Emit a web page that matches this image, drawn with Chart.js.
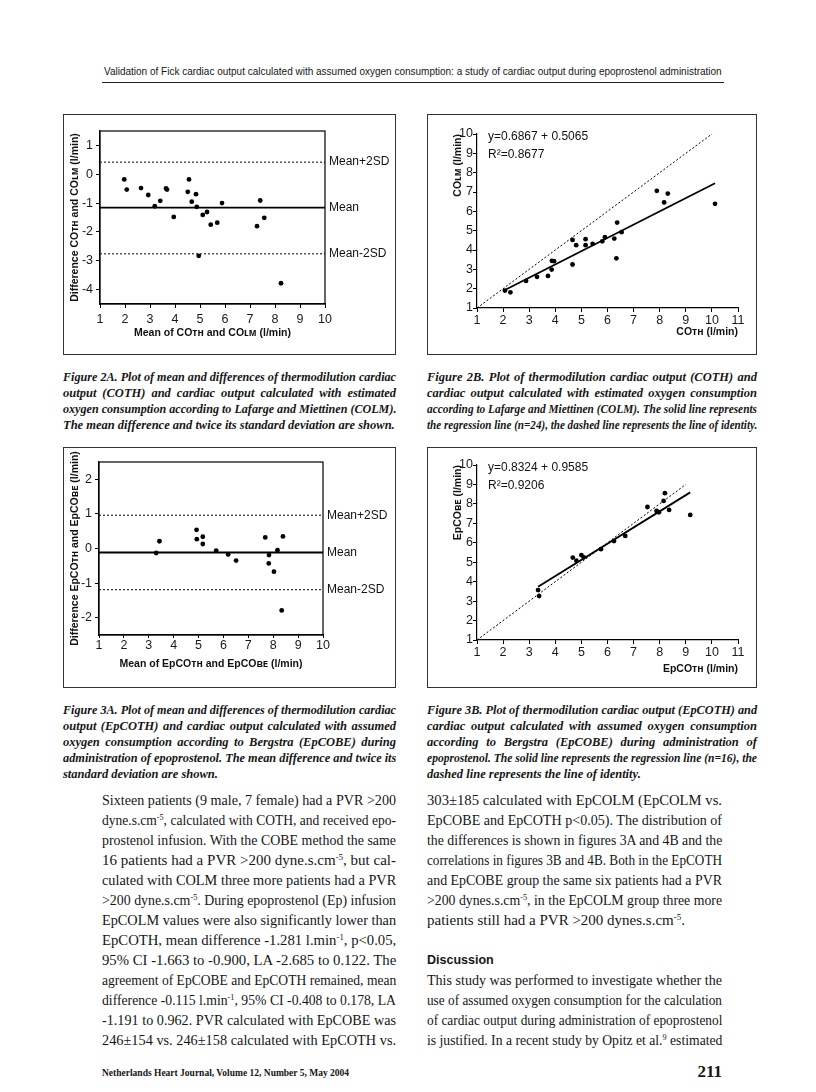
<!DOCTYPE html>
<html>
<head>
<meta charset="utf-8">
<script src="https://cdn.jsdelivr.net/npm/chart.js@4.4.1/dist/chart.umd.min.js"></script>
<style>
  body { margin: 0; width: 816px; height: 1092px; background: #fff; position: relative; overflow: hidden; color: #161616; font-family: "Liberation Serif", "Times New Roman", serif; }
  .box { position: absolute; border: 1px solid #333; box-sizing: border-box; }
  .box canvas { position: absolute; left: -1px; top: -1px; }
  .col { position: absolute; }
  .ln { white-space: nowrap; text-align: justify; text-align-last: justify; }
  .ln.end { text-align-last: left; }
  .cap { font-style: italic; font-weight: bold; font-size: 12.5px; line-height: 16px; }
  .txt { font-size: 15px; line-height: 20px; }
  sup { font-size: 0.6em; line-height: 0; vertical-align: 0.6em; }
  #hdr { position: absolute; left: 104px; top: 65px; width: 618px; font: 11.5px "Liberation Sans", Arial, sans-serif; }
  #rule { position: absolute; left: 102px; top: 82px; width: 622px; border-top: 1.3px solid #222; }
  #disc { font: bold 12.5px "Liberation Sans", Arial, sans-serif; line-height: 20px; }
  #foot { position: absolute; left: 102px; top: 1068px; font-weight: bold; font-size: 9.5px; }
  #page { position: absolute; left: 680px; width: 42px; top: 1062px; text-align: right; font-weight: bold; font-size: 17px; }
</style>
</head>
<body>
<div id="hdr" class="ln end">Validation of Fick cardiac output calculated with assumed oxygen consumption: a study of cardiac output during epoprostenol administration</div>
<div id="rule"></div>

<div class="box" style="left:63px;top:114px;width:333px;height:241px"><canvas id="c2a" width="333" height="241"></canvas></div>
<div class="box" style="left:427px;top:114px;width:330px;height:241px"><canvas id="c2b" width="330" height="241"></canvas></div>
<div class="box" style="left:63px;top:447px;width:333px;height:241px"><canvas id="c3a" width="333" height="241"></canvas></div>
<div class="box" style="left:427px;top:447px;width:330px;height:241px"><canvas id="c3b" width="330" height="241"></canvas></div>

<div class="col cap" style="left:63px;top:369px;width:333px">
  <div class="ln">Figure 2A. Plot of mean and differences of thermodilution cardiac</div>
  <div class="ln">output (COTH) and cardiac output calculated with estimated</div>
  <div class="ln">oxygen consumption according to Lafarge and Miettinen (COLM).</div>
  <div class="ln end">The mean difference and twice its standard deviation are shown.</div>
</div>
<div class="col cap" style="left:427px;top:369px;width:330px">
  <div class="ln">Figure 2B. Plot of thermodilution cardiac output (COTH) and</div>
  <div class="ln">cardiac output calculated with estimated oxygen consumption</div>
  <div class="ln">according to Lafarge and Miettinen (COLM). The solid line represents</div>
  <div class="ln">the regression line (n=24), the dashed line represents the line of identity.</div>
</div>
<div class="col cap" style="left:63px;top:702px;width:333px">
  <div class="ln">Figure 3A. Plot of mean and differences of thermodilution cardiac</div>
  <div class="ln">output (EpCOTH) and cardiac output calculated with assumed</div>
  <div class="ln">oxygen consumption according to Bergstra (EpCOBE) during</div>
  <div class="ln">administration of epoprostenol. The mean difference and twice its</div>
  <div class="ln end">standard deviation are shown.</div>
</div>
<div class="col cap" style="left:427px;top:702px;width:330px">
  <div class="ln">Figure 3B. Plot of thermodilution cardiac output (EpCOTH) and</div>
  <div class="ln">cardiac output calculated with assumed oxygen consumption</div>
  <div class="ln">according to Bergstra (EpCOBE) during administration of</div>
  <div class="ln">epoprostenol. The solid line represents the regression line (n=16), the</div>
  <div class="ln end">dashed line represents the line of identity.</div>
</div>

<div class="col txt" style="left:102px;top:790px;width:294px">
  <div class="ln">Sixteen patients (9 male, 7 female) had a PVR &gt;200</div>
  <div class="ln">dyne.s.cm<sup>-5</sup>, calculated with COTH, and received epo-</div>
  <div class="ln">prostenol infusion. With the COBE method the same</div>
  <div class="ln">16 patients had a PVR &gt;200 dyne.s.cm<sup>-5</sup>, but cal-</div>
  <div class="ln">culated with COLM three more patients had a PVR</div>
  <div class="ln">&gt;200 dyne.s.cm<sup>-5</sup>. During epoprostenol (Ep) infusion</div>
  <div class="ln">EpCOLM values were also significantly lower than</div>
  <div class="ln">EpCOTH, mean difference -1.281 l.min<sup>-1</sup>, p&lt;0.05,</div>
  <div class="ln">95% CI -1.663 to -0.900, LA -2.685 to 0.122. The</div>
  <div class="ln">agreement of EpCOBE and EpCOTH remained, mean</div>
  <div class="ln">difference -0.115 l.min<sup>-1</sup>, 95% CI -0.408 to 0.178, LA</div>
  <div class="ln">-1.191 to 0.962. PVR calculated with EpCOBE was</div>
  <div class="ln">246±154 vs. 246±158 calculated with EpCOTH vs.</div>
</div>
<div class="col txt" style="left:427px;top:790px;width:295px">
  <div class="ln">303±185 calculated with EpCOLM (EpCOLM vs.</div>
  <div class="ln">EpCOBE and EpCOTH p&lt;0.05). The distribution of</div>
  <div class="ln">the differences is shown in figures 3A and 4B and the</div>
  <div class="ln">correlations in figures 3B and 4B. Both in the EpCOTH</div>
  <div class="ln">and EpCOBE group the same six patients had a PVR</div>
  <div class="ln">&gt;200 dynes.s.cm<sup>-5</sup>, in the EpCOLM group three more</div>
  <div class="ln end">patients still had a PVR &gt;200 dynes.s.cm<sup>-5</sup>.</div>
  <div>&nbsp;</div>
  <div id="disc">Discussion</div>
  <div class="ln">This study was performed to investigate whether the</div>
  <div class="ln">use of assumed oxygen consumption for the calculation</div>
  <div class="ln">of cardiac output during administration of epoprostenol</div>
  <div class="ln">is justified. In a recent study by Opitz et al.<sup>9</sup> estimated</div>
</div>

<div id="foot">Netherlands Heart Journal, Volume 12, Number 5, May 2004</div>
<div id="page">211</div>

<script>
// Fig 2A: Bland-Altman, mean of COth and COlm vs difference
const meanCo2a = [1.97, 2.07, 2.64, 2.93, 3.19, 3.41, 3.64, 3.68, 3.95, 4.51, 4.56, 4.67, 4.84, 4.87, 4.95, 5.11, 5.28, 5.43, 5.69, 5.88, 7.28, 7.41, 7.57, 8.24];
const diffCo2a = [-0.18, -0.53, -0.48, -0.72, -1.11, -0.92, -0.49, -0.53, -1.48, -0.61, -0.18, -0.95, -0.69, -1.13, -2.83, -1.41, -1.31, -1.75, -1.68, -1.0, -1.80, -0.91, -1.51, -3.78];
const limits2a = [0.42, -1.16, -2.76];

// Fig 2B: COth vs COlm with regression
const coTh2b = [2.07, 2.28, 2.88, 3.30, 3.72, 3.86, 3.87, 3.95, 4.66, 4.66, 4.80, 5.16, 5.16, 5.43, 5.80, 5.90, 6.26, 6.34, 6.37, 6.54, 7.89, 8.17, 8.31, 10.12];
const coLm2b = [1.90, 1.81, 2.40, 2.61, 2.66, 2.99, 3.44, 3.42, 4.52, 3.25, 4.25, 4.56, 4.25, 4.32, 4.45, 4.66, 4.59, 3.57, 5.42, 4.92, 7.06, 6.46, 6.92, 6.39];
const fit2b = [0.6867, 0.5065];   // slope, intercept
const identity2b = [1, 10.2];

// Fig 3A: Bland-Altman during epoprostenol
const meanCo3a = [3.30, 3.43, 4.92, 4.93, 5.17, 5.17, 5.71, 6.19, 6.51, 7.68, 7.82, 7.83, 8.03, 8.17, 8.39, 8.34];
const diffCo3a = [-0.13, 0.21, 0.54, 0.27, 0.34, 0.13, -0.06, -0.17, -0.35, 0.32, -0.43, -0.19, -0.67, -0.05, 0.35, -1.79];
const limits3a = [0.962, -0.115, -1.191];

// Fig 3B: EpCOth vs EpCObe
const coTh3b = [3.34, 3.38, 4.67, 4.81, 5.00, 5.09, 5.75, 6.25, 6.68, 7.53, 7.88, 7.97, 8.15, 8.20, 8.36, 9.17];
const coBe3b = [3.57, 3.26, 5.24, 5.08, 5.37, 5.25, 5.67, 6.09, 6.35, 7.84, 7.64, 7.57, 8.15, 8.55, 7.69, 7.43];
const fit3b = [0.8324, 0.9585];
const identity3b = [1, 9.0];

const limitNames = ['Mean+2SD', 'Mean', 'Mean-2SD'];
const xTicksBA = [1, 2, 3, 4, 5, 6, 7, 8, 9, 10];
const yTicks2a = [-4, -3, -2, -1, 0, 1];
const yTicks3a = [-2, -1, 0, 1, 2];
const xTicksReg = [1, 2, 3, 4, 5, 6, 7, 8, 9, 10, 11];
const yTicksReg = [1, 2, 3, 4, 5, 6, 7, 8, 9, 10];

const SANS = '"Liberation Sans", Arial, sans-serif';
const pts = (xs, ys) => xs.map((x, i) => ({ x, y: ys[i] }));

// frame, limit labels and equation text
const notes = {
  id: 'notes',
  afterDatasetsDraw(chart, args, o) {
    const { ctx, chartArea: a, scales } = chart;
    ctx.save();
    if (o.frame) {
      ctx.strokeStyle = '#000'; ctx.lineWidth = 1.2;
      ctx.strokeRect(a.left, a.top, a.right - a.left, a.bottom - a.top);
    }
    ctx.fillStyle = '#111'; ctx.font = '12px ' + SANS; ctx.textBaseline = 'middle';
    (o.limits || []).forEach((v, i) => ctx.fillText(limitNames[i], a.right + 4, scales.y.getPixelForValue(v)));
    (o.lines || []).forEach((t, i) => ctx.fillText(t, a.left + 11, a.top + 3 + i * 18));
    ctx.restore();
  }
};

function axis(range, ticks, title, o) {
  return {
    type: 'linear', min: range[0], max: range[1],
    afterBuildTicks: s => { s.ticks = ticks.map(v => ({ value: v })); },
    afterFit: s => { if (o.w) s.width = o.w; if (o.h) s.height = o.h; },
    border: { color: '#000', width: 1.2 },
    grid: { drawOnChartArea: false, color: '#000', tickLength: o.tl },
    ticks: { color: '#1a1a1a', font: { family: SANS, size: 12.5 }, padding: o.pad, maxRotation: 0 },
    title: { display: true, text: title, color: '#111', align: o.align || 'center', font: { family: SANS, size: 10.5, weight: 'bold' }, padding: o.tp }
  };
}

function draw(id, datasets, p) {
  new Chart(document.getElementById(id), {
    type: 'scatter',
    data: { datasets },
    options: {
      responsive: false, animation: false, devicePixelRatio: 1,
      layout: { padding: { left: 0, top: p.top, right: p.right, bottom: 0 } },
      plugins: { legend: { display: false }, tooltip: { enabled: false }, notes: p.notes },
      scales: { x: p.x, y: p.y }
    },
    plugins: [notes]
  });
}

const dots = data => ({ data, pointRadius: 2.4, pointBackgroundColor: '#000', pointBorderWidth: 0 });
const seg = (data, dash, w) => ({ data, showLine: true, pointRadius: 0, borderColor: '#000', borderWidth: w, borderDash: dash });
const hline = (v, x, solid) => seg([{ x: x[0], y: v }, { x: x[x.length - 1], y: v }], solid ? [] : [2, 2], solid ? 1.8 : 1);
const limitLines = (lim, x) => lim.map((v, i) => hline(v, x, i === 1));
const fitLine = (f, xs) => {
  const lo = Math.min(...xs), hi = Math.max(...xs);
  return seg([{ x: lo, y: f[0] * lo + f[1] }, { x: hi, y: f[0] * hi + f[1] }], [], 1.8);
};

draw('c2a', [dots(pts(meanCo2a, diffCo2a)), ...limitLines(limits2a, xTicksBA)], {
  top: 17, right: 71,
  notes: { frame: true, limits: limits2a },
  x: axis([1, 10], xTicksBA, 'Mean of COᴛʜ and COʟᴍ (l/min)', { h: 51, tl: 4, pad: 4, tp: { top: 0, bottom: 15.7 } }),
  y: axis([-4.5, 1.5], yTicks2a, 'Difference COᴛʜ and COʟᴍ (l/min)', { w: 37, tl: 4, pad: 3, tp: { top: 5.7, bottom: 0 } })
});

draw('c2b', [dots(pts(coTh2b, coLm2b)), fitLine(fit2b, coTh2b), seg(identity2b.map(v => ({ x: v, y: v })), [2, 2], 1)], {
  top: 20, right: 19,
  notes: { lines: ['y=0.6867 + 0.5065', 'R²=0.8677'] },
  x: axis([1, 11], xTicksReg, 'COᴛʜ (l/min)', { h: 47, tl: 4, pad: 1, align: 'end', tp: { top: 0, bottom: 17 } }),
  y: axis([1, 10], yTicksReg, 'COʟᴍ (l/min)', { w: 50, tl: 4, pad: 0, align: 'end', tp: { top: 24.7, bottom: 0 } })
});

draw('c3a', [dots(pts(meanCo3a, diffCo3a)), ...limitLines(limits3a, xTicksBA)], {
  top: 15, right: 73,
  notes: { frame: true, limits: limits3a },
  x: axis([1, 10], xTicksBA, 'Mean of EpCOᴛʜ and EpCOʙᴇ (l/min)', { h: 53, tl: 3, pad: 0, tp: { top: 0, bottom: 17.7 } }),
  y: axis([-2.5, 2.5], yTicks3a, 'Difference EpCOᴛʜ and EpCOʙᴇ (l/min)', { w: 36, tl: 4, pad: 3, tp: { top: 5.7, bottom: 0 } })
});

draw('c3b', [dots(pts(coTh3b, coBe3b)), fitLine(fit3b, coTh3b), seg(identity3b.map(v => ({ x: v, y: v })), [2, 2], 1)], {
  top: 18, right: 19,
  notes: { lines: ['y=0.8324 + 0.9585', 'R²=0.9206'] },
  x: axis([1, 11], xTicksReg, 'EpCOᴛʜ (l/min)', { h: 48, tl: 4, pad: 1.5, align: 'end', tp: { top: 0, bottom: 12.7 } }),
  y: axis([1, 10], yTicksReg, 'EpCOʙᴇ (l/min)', { w: 50, tl: 4, pad: 0, align: 'end', tp: { top: 24.7, bottom: 0 } })
});

// squeeze any line that is longer than its column
document.querySelectorAll('.ln').forEach(el => {
  const w = el.clientWidth, nat = el.scrollWidth;
  if (nat > w + 0.5) {
    el.style.width = nat + 'px';
    el.style.transformOrigin = 'left top';
    el.style.transform = 'scaleX(' + (w / nat) + ')';
  }
});
</script>
</body>
</html>
